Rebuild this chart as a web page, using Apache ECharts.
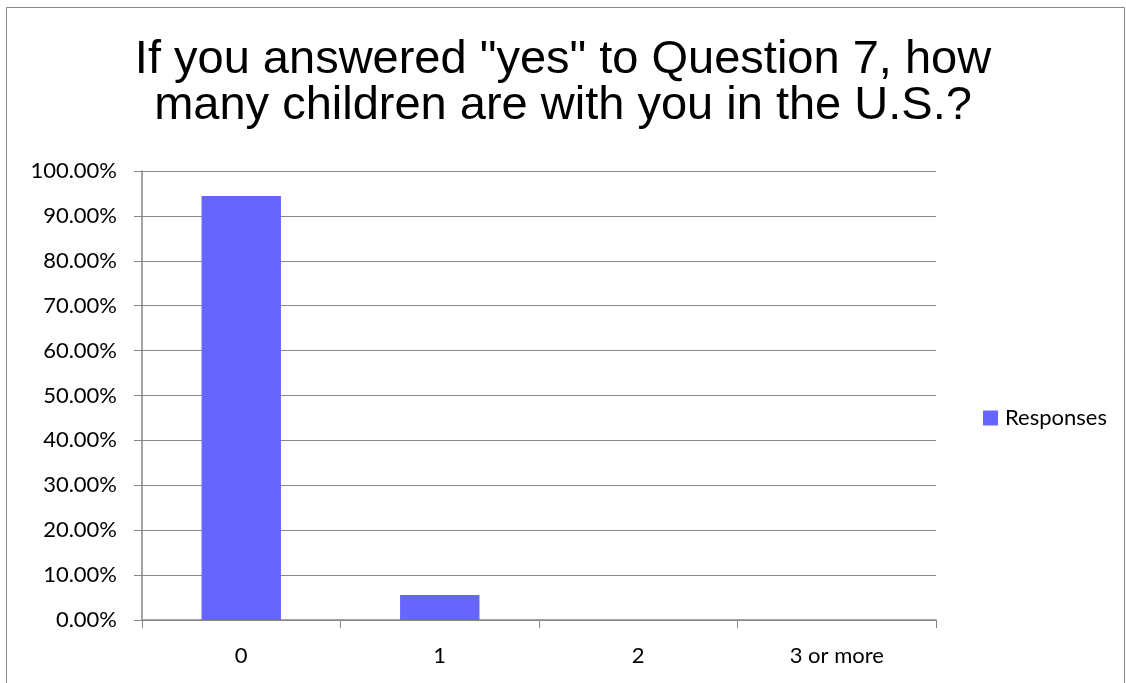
<!DOCTYPE html>
<html>
<head>
<meta charset="utf-8">
<script src="https://cdn.jsdelivr.net/npm/echarts@6/dist/echarts.min.js"></script>
<style>
  html, body { margin: 0; padding: 0; background: #fff; }
  #chart { width: 1126px; height: 683px; }
</style>
</head>
<body>
<div id="chart"></div>
<script>
// data
const categories = ["0", "1", "2", "3 or more"];
const responses = [94.44, 5.56, 0, 0];
const yTicks = [0, 10, 20, 30, 40, 50, 60, 70, 80, 90, 100];

const chart = echarts.init(document.getElementById("chart"));
const axisGray = "#868686";
const labelFont = "Lato";

chart.setOption({
  animation: false,
  backgroundColor: "#fff",
  graphic: [
    {
      type: "rect",
      shape: { x: 6.5, y: 7.5, width: 1118, height: 690 },
      style: { fill: "none", stroke: axisGray, lineWidth: 1 },
      silent: true,
    },
  ],
  title: {
    text: 'If you answered "yes" to Question 7, how\nmany children are with you in the U.S.?',
    left: "center",
    top: 32,
    textStyle: {
      fontFamily: "Liberation Sans",
      fontWeight: "normal",
      fontSize: 47,
      lineHeight: 46,
      color: "#000",
    },
  },
  legend: {
    left: 978,
    top: 402,
    orient: "vertical",
    icon: "rect",
    itemWidth: 15,
    itemHeight: 15,
    itemGap: 6,
    textStyle: { fontFamily: labelFont, fontSize: 22, color: "#000", padding: [0, 0, 0, 2] },
    data: ["Responses"],
  },
  grid: {
    left: 142,
    right: 190,
    top: 171,
    bottom: 63,
    containLabel: false,
  },
  xAxis: {
    type: "category",
    data: categories,
    axisLine: { lineStyle: { color: axisGray, width: 1.5 } },
    axisTick: { show: true, length: 8, alignWithLabel: false, lineStyle: { color: axisGray } },
    axisLabel: {
      margin: 25,
      fontFamily: labelFont,
      fontSize: 22,
      color: "#000",
    },
    splitLine: { show: false },
  },
  yAxis: {
    type: "value",
    min: yTicks[0],
    max: yTicks[yTicks.length - 1],
    interval: 10,
    axisLine: { show: true, lineStyle: { color: axisGray, width: 1.5 } },
    axisTick: { show: true, length: 8, lineStyle: { color: axisGray } },
    axisLabel: {
      margin: 25,
      fontFamily: labelFont,
      fontSize: 22,
      color: "#000",
      formatter: (v) => v.toFixed(2) + "%",
    },
    splitLine: { show: true, lineStyle: { color: axisGray, width: 1 } },
  },
  series: [
    {
      name: "Responses",
      type: "bar",
      data: responses,
      barWidth: "40%",
      itemStyle: { color: "#6666ff" },
    },
  ],
});
</script>
</body>
</html>
